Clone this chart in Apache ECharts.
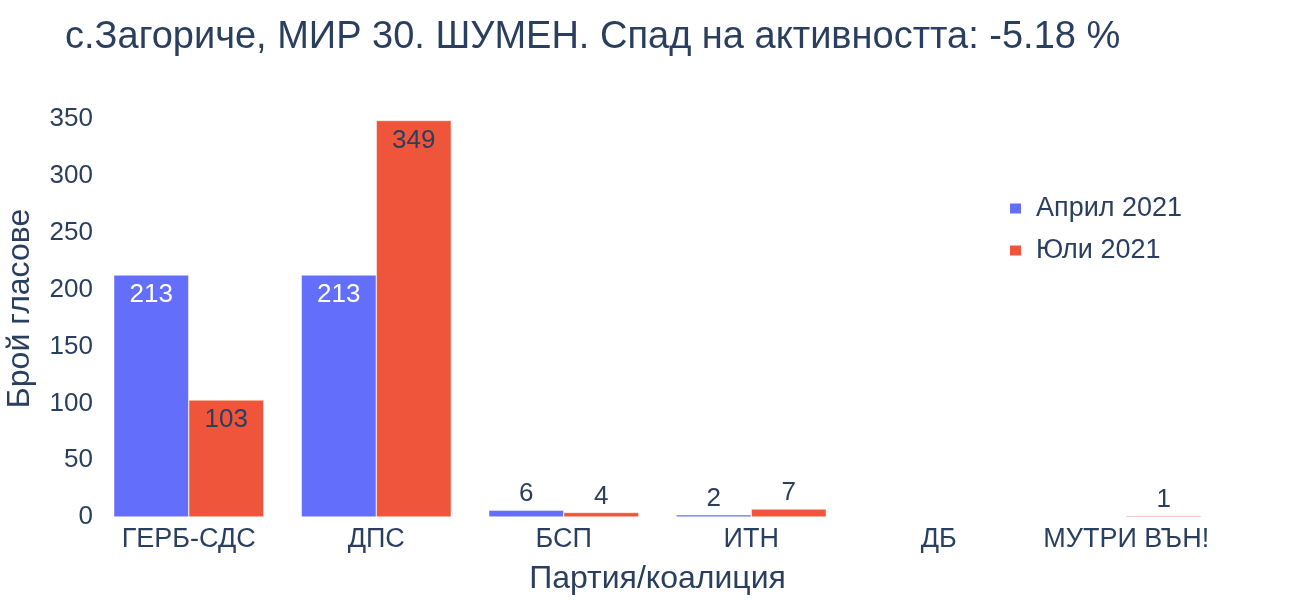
<!DOCTYPE html>
<html><head><meta charset="utf-8">
<script src="https://cdn.jsdelivr.net/npm/echarts@6/dist/echarts.min.js"></script>
<style>html,body{margin:0;padding:0;background:#fff}#c{width:1300px;height:600px}</style>
</head><body><div id="c"></div>
<script>
const titleText = 'с.Загориче, МИР 30. ШУМЕН. Спад на активността: -5.18 %';
const categories = ['ГЕРБ-СДС', 'ДПС', 'БСП', 'ИТН', 'ДБ', 'МУТРИ ВЪН!'];
const april = [213, 213, 6, 2, 0, 0];
const july = [103, 349, 4, 7, 0, 1];
const seriesNames = ['Април 2021', 'Юли 2021'];
const yTicks = [0, 50, 100, 150, 200, 250, 300, 350];

const TXT = '#2a3f5f';
const FONT = '"Liberation Sans", Arial, sans-serif';
const FS = 26;

function mkData(vals, insideColor) {
  return vals.map(v => {
    if (v === 0) return { value: v, label: { show: false } };
    if (v > 30) return { value: v, label: { show: true, position: 'insideTop', distance: 7, color: insideColor } };
    return { value: v, label: { show: true, position: 'top', distance: 3, color: TXT } };
  });
}

const chart = echarts.init(document.getElementById('c'), null, { renderer: 'canvas' });
chart.setOption({
  animation: false,
  textStyle: { fontFamily: FONT },
  title: { text: titleText, left: 60, top: 14, textStyle: { fontFamily: FONT, fontSize: 38, fontWeight: 'normal', color: TXT } },
  legend: {
    orient: 'vertical', left: 1003, top: 190, icon: 'rect', itemWidth: 13, itemHeight: 12, itemGap: 15,
    textStyle: { fontFamily: FONT, fontSize: 27, color: TXT, padding: [0, 0, 0, 9] }, data: seriesNames
  },
  grid: { left: 95, right: 80, top: 100, bottom: 83, containLabel: false, outerBoundsMode: 'none' },
  xAxis: {
    type: 'category', data: categories,
    axisLine: { show: false }, axisTick: { show: false },
    axisLabel: { fontSize: 27, color: TXT, margin: 9, fontFamily: FONT, interval: 0 },
    name: 'Партия/коалиция', nameLocation: 'middle', nameGap: 46,
    nameTextStyle: { fontSize: 32, color: TXT, fontFamily: FONT }
  },
  yAxis: {
    type: 'value', min: 0, max: 367, interval: 50,
    axisLine: { show: false }, axisTick: { show: false }, splitLine: { show: false },
    axisLabel: { fontSize: FS, color: TXT, margin: 2, fontFamily: FONT, showMaxLabel: false, padding: [4, 0, 0, 0],
      formatter: v => yTicks.includes(v) ? String(v) : '' },
    name: 'Брой гласове', nameLocation: 'middle', nameGap: 59,
    nameTextStyle: { fontSize: 32, color: TXT, fontFamily: FONT }
  },
  series: [
    { name: seriesNames[0], type: 'bar', data: mkData(april, '#ffffff'), barGap: '0%', barCategoryGap: '20%',
      itemStyle: { color: '#636efa', borderColor: '#ffffff', borderWidth: 0.5 },
      label: { fontSize: FS, fontFamily: FONT } },
    { name: seriesNames[1], type: 'bar', data: mkData(july, TXT), barGap: '0%', barCategoryGap: '20%',
      itemStyle: { color: '#EF553B', borderColor: '#ffffff', borderWidth: 0.5 },
      label: { fontSize: FS, fontFamily: FONT } }
  ]
});
</script></body></html>
